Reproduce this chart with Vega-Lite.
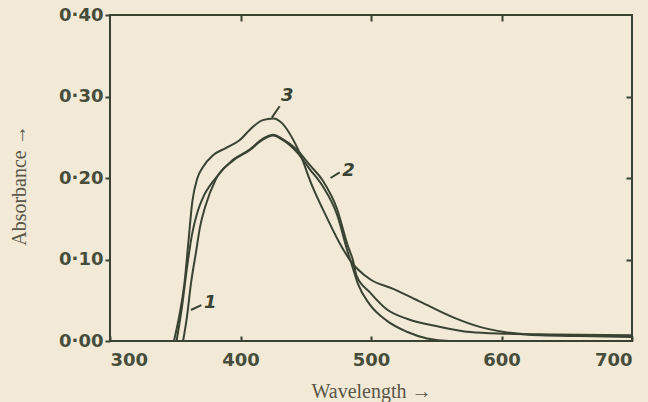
{
  "$schema": "https://vega.github.io/schema/vega-lite/v6.json",
  "autosize": "none",
  "width": 522,
  "height": 326,
  "padding": {"left": 110, "top": 15, "right": 16, "bottom": 61},
  "background": "#f2ead7",
  "config": {
    "view": {"stroke": "#3a4232", "strokeWidth": 2, "fill": "#f2ead7"},
    "axis": {"grid": false, "domain": false, "tickColor": "#3a4232", "tickWidth": 2,
             "labelColor": "#474d3b", "labelFont": "DejaVu Sans", "labelFontWeight": "bold", "labelFontSize": 18,
             "titleFont": "Liberation Serif", "titleFontWeight": "normal", "titleFontSize": 20, "titleColor": "#5a5648"}
  },
  "datasets": {
    "curves": [
      {"curve": "3", "wl": 349, "abs": 0.0},
      {"curve": "3", "wl": 353, "abs": 0.03},
      {"curve": "3", "wl": 357, "abs": 0.07},
      {"curve": "3", "wl": 360, "abs": 0.12},
      {"curve": "3", "wl": 363, "abs": 0.17},
      {"curve": "3", "wl": 367, "abs": 0.2},
      {"curve": "3", "wl": 371, "abs": 0.213},
      {"curve": "3", "wl": 379, "abs": 0.228},
      {"curve": "3", "wl": 389, "abs": 0.237},
      {"curve": "3", "wl": 399, "abs": 0.246},
      {"curve": "3", "wl": 409, "abs": 0.262},
      {"curve": "3", "wl": 417, "abs": 0.271},
      {"curve": "3", "wl": 425, "abs": 0.273},
      {"curve": "3", "wl": 432, "abs": 0.267},
      {"curve": "3", "wl": 440, "abs": 0.248},
      {"curve": "3", "wl": 445, "abs": 0.232},
      {"curve": "3", "wl": 455, "abs": 0.19},
      {"curve": "3", "wl": 466, "abs": 0.152},
      {"curve": "3", "wl": 476, "abs": 0.12},
      {"curve": "3", "wl": 484, "abs": 0.099},
      {"curve": "3", "wl": 499, "abs": 0.076},
      {"curve": "3", "wl": 517, "abs": 0.064},
      {"curve": "3", "wl": 538, "abs": 0.048},
      {"curve": "3", "wl": 563, "abs": 0.029},
      {"curve": "3", "wl": 584, "abs": 0.017},
      {"curve": "3", "wl": 602, "abs": 0.011},
      {"curve": "3", "wl": 630, "abs": 0.007},
      {"curve": "3", "wl": 660, "abs": 0.006},
      {"curve": "3", "wl": 700, "abs": 0.005},
      {"curve": "2", "wl": 351, "abs": 0.0},
      {"curve": "2", "wl": 355, "abs": 0.04},
      {"curve": "2", "wl": 359, "abs": 0.09},
      {"curve": "2", "wl": 363, "abs": 0.132},
      {"curve": "2", "wl": 367, "abs": 0.158},
      {"curve": "2", "wl": 371, "abs": 0.175},
      {"curve": "2", "wl": 381, "abs": 0.2},
      {"curve": "2", "wl": 394, "abs": 0.222},
      {"curve": "2", "wl": 407, "abs": 0.235},
      {"curve": "2", "wl": 417, "abs": 0.248},
      {"curve": "2", "wl": 425, "abs": 0.253},
      {"curve": "2", "wl": 432, "abs": 0.248},
      {"curve": "2", "wl": 443, "abs": 0.235},
      {"curve": "2", "wl": 453, "abs": 0.216},
      {"curve": "2", "wl": 463, "abs": 0.197},
      {"curve": "2", "wl": 474, "abs": 0.162},
      {"curve": "2", "wl": 482, "abs": 0.118},
      {"curve": "2", "wl": 486, "abs": 0.1},
      {"curve": "2", "wl": 489, "abs": 0.08},
      {"curve": "2", "wl": 499, "abs": 0.06},
      {"curve": "2", "wl": 512, "abs": 0.039},
      {"curve": "2", "wl": 528, "abs": 0.027},
      {"curve": "2", "wl": 551, "abs": 0.018},
      {"curve": "2", "wl": 576, "abs": 0.011},
      {"curve": "2", "wl": 602, "abs": 0.009},
      {"curve": "2", "wl": 640, "abs": 0.008},
      {"curve": "2", "wl": 700, "abs": 0.007},
      {"curve": "1", "wl": 356, "abs": 0.0},
      {"curve": "1", "wl": 359, "abs": 0.03},
      {"curve": "1", "wl": 362, "abs": 0.07},
      {"curve": "1", "wl": 366, "abs": 0.11},
      {"curve": "1", "wl": 369, "abs": 0.14},
      {"curve": "1", "wl": 373, "abs": 0.165},
      {"curve": "1", "wl": 381, "abs": 0.198},
      {"curve": "1", "wl": 394, "abs": 0.221},
      {"curve": "1", "wl": 407, "abs": 0.234},
      {"curve": "1", "wl": 417, "abs": 0.247},
      {"curve": "1", "wl": 425, "abs": 0.252},
      {"curve": "1", "wl": 432, "abs": 0.247},
      {"curve": "1", "wl": 443, "abs": 0.232},
      {"curve": "1", "wl": 453, "abs": 0.211},
      {"curve": "1", "wl": 463, "abs": 0.19},
      {"curve": "1", "wl": 474, "abs": 0.155},
      {"curve": "1", "wl": 482, "abs": 0.11},
      {"curve": "1", "wl": 486, "abs": 0.09},
      {"curve": "1", "wl": 490, "abs": 0.07},
      {"curve": "1", "wl": 499, "abs": 0.045},
      {"curve": "1", "wl": 512, "abs": 0.025},
      {"curve": "1", "wl": 528, "abs": 0.011},
      {"curve": "1", "wl": 543, "abs": 0.003},
      {"curve": "1", "wl": 560, "abs": 0.0},
      {"curve": "1", "wl": 600, "abs": 0.0},
      {"curve": "1", "wl": 700, "abs": 0.0}
    ],
    "labels": [
      {"label": "3", "x1": 424, "y1": 0.274, "x2": 430, "y2": 0.288, "tx": 431, "ty": 0.301},
      {"label": "2", "x1": 469, "y1": 0.2, "x2": 476, "y2": 0.207, "tx": 478, "ty": 0.209},
      {"label": "1", "x1": 362, "y1": 0.038, "x2": 370, "y2": 0.044, "tx": 372, "ty": 0.047}
    ]
  },
  "resolve": {"axis": {"x": "independent", "y": "independent"}},
  "layer": [
    {
      "data": {"name": "curves"},
      "mark": {"type": "line", "interpolate": "monotone", "color": "#3a4232", "strokeWidth": 2, "clip": true},
      "encoding": {
        "x": {"field": "wl", "type": "quantitative", "scale": {"domain": [300, 700], "nice": false},
              "axis": {"orient": "bottom", "values": [300, 400, 500, 600, 700], "tickSize": -5, "labelPadding": 15,
                       "title": "Wavelength →", "titleY": 50, "titleBaseline": "middle"}},
        "y": {"field": "abs", "type": "quantitative", "scale": {"domain": [0, 0.4], "nice": false},
              "axis": {"orient": "left", "values": [0, 0.1, 0.2, 0.3, 0.4], "tickSize": 5, "labelPadding": 2,
                       "labelExpr": "replace(format(datum.value, '.2f'), '.', '·')",
                       "title": "Absorbance →", "titleX": -91, "titleY": 170, "titleAngle": -90,
                       "titleAlign": "center", "titleBaseline": "middle"}},
        "detail": {"field": "curve"}
      }
    },
    {
      "data": {"name": "labels"},
      "mark": {"type": "rule", "color": "#3a4232", "strokeWidth": 2},
      "encoding": {
        "x": {"field": "x1", "type": "quantitative",
              "axis": {"orient": "top", "values": [400, 500, 600], "tickSize": -6, "labels": false, "title": null}},
        "y": {"field": "y1", "type": "quantitative",
              "axis": {"orient": "right", "values": [0.1, 0.2, 0.3], "tickSize": -6, "labels": false, "title": null}},
        "x2": {"field": "x2"},
        "y2": {"field": "y2"}
      }
    },
    {
      "data": {"name": "labels"},
      "mark": {"type": "text", "font": "DejaVu Sans", "fontWeight": "bold", "fontStyle": "italic", "fontSize": 18,
               "color": "#3a4232", "align": "left", "baseline": "middle"},
      "encoding": {
        "x": {"field": "tx", "type": "quantitative", "axis": null},
        "y": {"field": "ty", "type": "quantitative", "axis": null},
        "text": {"field": "label"}
      }
    }
  ]
}
